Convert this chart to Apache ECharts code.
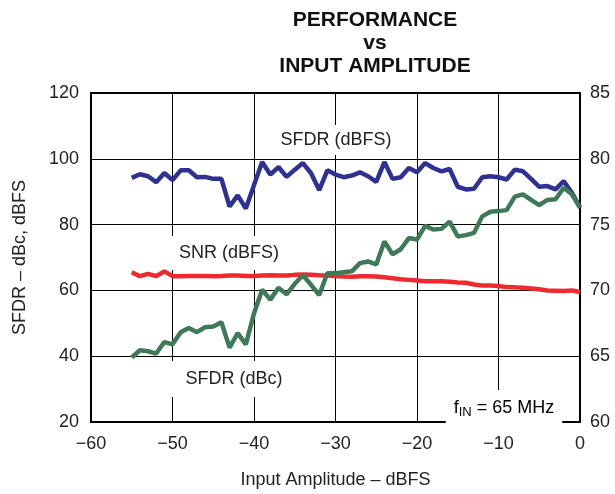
<!DOCTYPE html>
<html>
<head>
<meta charset="utf-8">
<script src="https://cdn.jsdelivr.net/npm/echarts@6/dist/echarts.min.js"></script>
<style>html,body{margin:0;padding:0;background:#fff}#c{width:615px;height:494px}</style>
</head>
<body>
<div id="c"></div>
<script>
// Input amplitude, dBFS
var inputAmplitude = [-55,-54,-53,-52,-51,-50,-49,-48,-47,-46,-45,-44,-43,-42,-41,-40,-39,-38,-37,-36,-35,-34,-33,-32,-31,-30,-29,-28,-27,-26,-25,-24,-23,-22,-21,-20,-19,-18,-17,-16,-15,-14,-13,-12,-11,-10,-9,-8,-7,-6,-5,-4,-3,-2,-1,0];
// SFDR (dBFS), left axis
var sfdrDbfs = [94.2,95.3,94.7,92.9,95.7,93.5,96.5,96.5,94.4,94.5,93.9,93.9,85.5,88.9,84.9,92.0,99.0,95.2,97.5,94.5,96.7,98.7,95.6,90.5,96.5,95.2,94.4,94.9,95.9,94.7,93.0,99.0,93.9,94.4,97.2,95.9,98.7,97.2,96.2,96.9,91.5,90.7,90.9,94.4,94.7,94.4,93.7,96.7,96.2,93.9,91.5,91.7,90.7,93.2,89.7,85.2];
// SFDR (dBc), left axis
var sfdrDbc = [39.6,41.8,41.5,40.8,44.3,43.6,47.3,48.6,47.3,48.8,49.0,50.3,42.6,47.0,43.6,53.0,60.2,57.2,60.8,58.8,62.0,64.6,61.7,58.6,65.2,65.2,65.5,65.8,68.3,68.8,67.9,74.9,71.0,72.5,75.9,75.5,79.6,78.5,78.7,80.9,76.4,76.8,77.5,82.5,83.9,84.1,84.4,88.5,89.2,87.5,85.9,87.5,87.7,91.2,89.2,85.2];
// SNR (dBFS), right axis
var snrDbfs = [71.38,71.08,71.25,71.08,71.45,71.08,71.08,71.1,71.1,71.1,71.08,71.1,71.13,71.13,71.1,71.1,71.13,71.15,71.13,71.13,71.18,71.2,71.18,71.15,71.13,71.1,71.05,71.03,71.08,71.08,71.05,71.0,70.93,70.85,70.8,70.75,70.7,70.7,70.7,70.65,70.6,70.58,70.45,70.38,70.38,70.33,70.25,70.23,70.2,70.15,70.08,70.0,69.98,69.95,70.0,69.88];

function pairs(ys){ return inputAmplitude.map(function(x,i){ return [x, ys[i]]; }); }

var FONT = '"Liberation Sans", Arial, sans-serif';
var chart = echarts.init(document.getElementById('c'), null, {renderer:'canvas'});
function lbl(text, x, y, pad){
  return { type:'text', x:x, y:y, z:1,
    style:{ text:text, font:'18px ' + FONT, fill:'#222', align:'center', verticalAlign:'middle',
      backgroundColor:'#fff', padding:pad } };
}
chart.setOption({
  animation:false,
  backgroundColor:'#fff',
  grid:{ left:91, right:35, top:93, bottom:67, show:true, borderColor:'#000', borderWidth:2, backgroundColor:'transparent' },
  xAxis:{ type:'value', min:-60, max:0, interval:10,
    name:'Input Amplitude \u2013 dBFS', nameLocation:'middle', nameGap:49,
    nameTextStyle:{ fontSize:18, fontFamily:FONT, color:'#222' },
    axisLine:{show:false}, axisTick:{show:false},
    axisLabel:{ fontSize:18, fontFamily:FONT, color:'#222', margin:13,
      formatter:function(v){ return v<0 ? '\u2212'+(-v) : String(v); } },
    splitLine:{ show:true, lineStyle:{ color:'#000', width:1 } } },
  yAxis:[
    { type:'value', min:20, max:120, interval:20, position:'left',
      name:'SFDR \u2013 dBc, dBFS', nameLocation:'middle', nameGap:62,
      nameTextStyle:{ fontSize:18, fontFamily:FONT, color:'#222' },
      axisLine:{show:false}, axisTick:{show:false},
      axisLabel:{ fontSize:18, fontFamily:FONT, color:'#222', margin:12 },
      splitLine:{ show:true, lineStyle:{ color:'#000', width:1 } } },
    { type:'value', min:60, max:85, interval:5, position:'right',
      axisLine:{show:false}, axisTick:{show:false},
      axisLabel:{ fontSize:18, fontFamily:FONT, color:'#222', margin:10 },
      splitLine:{ show:false } }
  ],
  series:[
    { type:'line', name:'SFDR (dBFS)', yAxisIndex:0, data:pairs(sfdrDbfs), symbol:'none',
      lineStyle:{ color:'#2e3192', width:4.5 }, z:3 },
    { type:'line', name:'SNR (dBFS)', yAxisIndex:1, data:pairs(snrDbfs), symbol:'none',
      lineStyle:{ color:'#ee2a2f', width:4.5 }, z:3 },
    { type:'line', name:'SFDR (dBc)', yAxisIndex:0, data:pairs(sfdrDbc), symbol:'none',
      lineStyle:{ color:'#3f7a58', width:4.5 }, z:4 }
  ],
  graphic:[
    { type:'text', x:375, y:9, z:5,
      style:{ text:'PERFORMANCE\nvs\nINPUT AMPLITUDE', font:'bold 21px ' + FONT, fill:'#111',
        align:'center', verticalAlign:'top', lineHeight:23 } },
    lbl('SFDR (dBFS)', 336, 140, [6,12]),
    lbl('SNR (dBFS)', 229, 253, [8,14]),
    lbl('SFDR (dBc)', 234, 379, [9,15]),
    { type:'text', x:504, y:408, z:1,
      style:{ text:'{a|f}{b|IN}{a| = 65 MHz}', align:'center', verticalAlign:'middle',
        backgroundColor:'#fff', padding:[7,8],
        rich:{ a:{ fontSize:18, fontFamily:FONT, color:'#222' },
               b:{ fontSize:13, fontFamily:FONT, color:'#222', padding:[9,0,0,0] } } } }
  ]
});
</script>
</body>
</html>
